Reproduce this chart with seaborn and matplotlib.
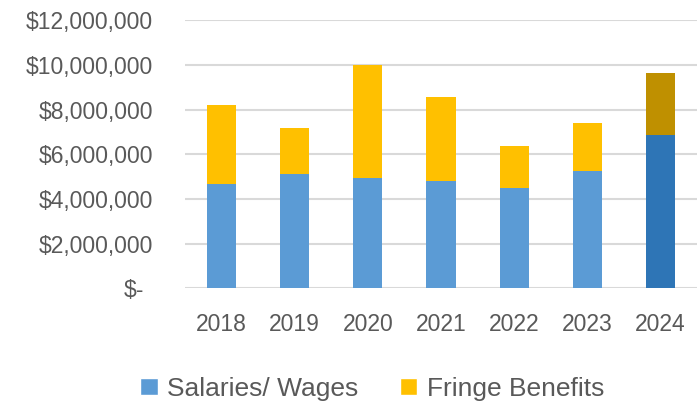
import pandas as pd
import matplotlib.pyplot as plt
import seaborn as sns
from matplotlib.patches import Patch
from matplotlib.ticker import FuncFormatter

# data
years = ['2018', '2019', '2020', '2021', '2022', '2023', '2024']
salaries = [4680000, 5130000, 4950000, 4800000, 4470000, 5260000, 6870000]
fringe = [3520000, 2040000, 5050000, 3750000, 1880000, 2120000, 2760000]

sal_colors = ['#5B9BD5'] * 6 + ['#2E75B6']
fr_colors = ['#FFC000'] * 6 + ['#BF9000']
text_gray = '#595959'

df = pd.DataFrame({'Year': years, 'Salaries': salaries, 'Fringe': fringe})
df['Total'] = df['Salaries'] + df['Fringe']

sns.set_style('white')
plt.rcParams['font.family'] = ['Liberation Sans', 'DejaVu Sans']

fig = plt.figure(figsize=(6.97, 4.05), dpi=100)
ax = fig.add_axes([0.2654, 0.288, 0.7346, 0.662])

# stacked: total bar (fringe colour) first, then salaries over it
sns.barplot(data=df, x='Year', y='Total', hue='Year', palette=fr_colors,
            width=0.4, legend=False, ax=ax, saturation=1, zorder=2,
            edgecolor='none')
sns.barplot(data=df, x='Year', y='Salaries', hue='Year', palette=sal_colors,
            width=0.4, legend=False, ax=ax, saturation=1, zorder=3,
            edgecolor='none')

ax.set_ylim(0, 12000000)
ax.set_yticks(range(0, 12000001, 2000000))
ax.yaxis.set_major_formatter(FuncFormatter(
    lambda v, p: '$-' if v == 0 else '${:,.0f}'.format(v)))
ax.grid(axis='y', color='#D9D9D9', linewidth=1.5, zorder=0)
ax.set_axisbelow(True)
for s in ax.spines.values():
    s.set_visible(False)
ax.tick_params(axis='y', length=0, pad=23, labelsize=16.5, labelcolor=text_gray)
ax.tick_params(axis='x', length=0, pad=18, labelsize=16.5, labelcolor=text_gray)
# accounting-style "$-" sits a bit left of the other labels
ax.get_yticklabels()[0].set_x(-0.018)
ax.set_xlabel('')
ax.set_ylabel('')

handles = [Patch(facecolor='#5B9BD5', label='Salaries/ Wages'),
           Patch(facecolor='#FFC000', label='Fringe Benefits')]
fig.legend(handles=handles, loc='center', bbox_to_anchor=(0.534, 0.04),
           ncol=2, frameon=False, fontsize=19, labelcolor=text_gray,
           handlelength=0.65, handleheight=0.65, handletextpad=0.35,
           columnspacing=1.6)

fig.savefig('out.png', dpi=100)
